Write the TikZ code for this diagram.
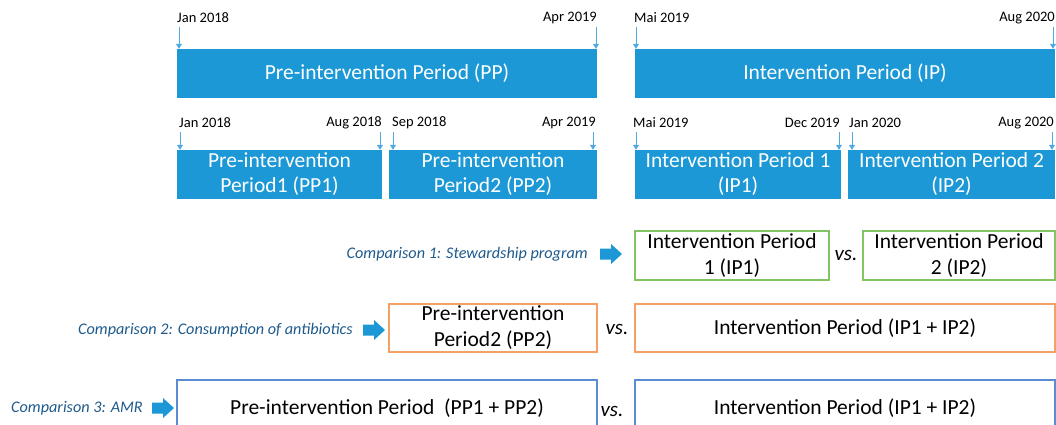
\documentclass[tikz,border=0pt]{standalone}
\usepackage{fontspec}
\setmainfont{Carlito}
\usetikzlibrary{positioning, arrows.meta}
\definecolor{barblue}{RGB}{27,152,213}
\definecolor{tickblue}{RGB}{80,170,225}
\definecolor{cmpblue}{RGB}{30,90,140}
\definecolor{boxgreen}{RGB}{130,195,100}
\definecolor{boxorange}{RGB}{245,160,100}
\definecolor{boxblue}{RGB}{90,140,210}

\begin{document}
\begin{tikzpicture}[x=1pt, y=-1pt,
	period/.style={fill=barblue, text=white, minimum height=49pt, inner sep=0pt, align=center, font=\fontsize{21.5}{25}\selectfont},
	date/.style={inner sep=0pt, font=\fontsize{14.5}{17}\selectfont},
	tick/.style={draw=tickblue, line width=0.8pt, -{Triangle[width=6pt,length=5pt]}},
	cmpbox/.style={draw=#1, line width=1.3pt, inner sep=0pt, align=center, font=\fontsize{21.5}{26}\selectfont},
	versus/.style={inner sep=0pt, font=\fontsize{21}{25}\selectfont\itshape},
	cmp/.style={text=cmpblue, inner sep=0pt, font=\fontsize{16.2}{18}\selectfont\itshape},
	bigarrow/.style={fill=barblue}]
			\useasboundingbox (0,0) rectangle (1056,425);
			\clip (0,0) rectangle (1056,425);
			\node [period, minimum width=420pt] (pp) at (387,73.5) {Pre-intervention Period (PP)};
			\node [period, minimum width=420pt] (ip) at (845,73.5) {Intervention Period (IP)};
			\node [period, minimum width=205pt] (pp1) at (279.5,174.5) {Pre-intervention\\Period1 (PP1)};
			\node [period, minimum width=208pt] (pp2) at (493,174.5) {Pre-intervention\\Period2 (PP2)};
			\node [period, minimum width=206pt] (ip1) at (738,174.5) {Intervention Period 1\\(IP1)};
			\node [period, minimum width=207pt] (ip2) at (951.5,174.5) {Intervention Period 2\\(IP2)};
			\node [date, anchor=west] (d1) at (177,18) {Jan 2018};
			\node [date, anchor=east] (d2) at (597,18) {Apr 2019};
			\node [date, anchor=west] (d3) at (634,18) {Mai 2019};
			\node [date, anchor=east] (d4) at (1055,18) {Aug 2020};
			\node [date, anchor=west] (d5) at (179,123) {Jan 2018};
			\node [date, anchor=east] (d6) at (382,123) {Aug 2018};
			\node [date, anchor=west] (d7) at (392,123) {Sep 2018};
			\node [date, anchor=east] (d8) at (596,123) {Apr 2019};
			\node [date, anchor=west] (d9) at (633,123) {Mai 2019};
			\node [date, anchor=east] (d10) at (840,123) {Dec 2019};
			\node [date, anchor=west] (d11) at (849,123) {Jan 2020};
			\node [date, anchor=east] (d12) at (1054,123) {Aug 2020};
			\coordinate (t1) at (179,27);
			\coordinate (t2) at (596,27);
			\coordinate (t3) at (636,27);
			\coordinate (t4) at (1053,27);
			\coordinate (t5) at (180,132);
			\coordinate (t6) at (380,132);
			\coordinate (t7) at (393,132);
			\coordinate (t8) at (593,132);
			\coordinate (t9) at (636,132);
			\coordinate (t10) at (839,132);
			\coordinate (t11) at (852,132);
			\coordinate (t12) at (1052,132);
			\draw [tick] (t1) to (t1 |- pp.north);
			\draw [tick] (t2) to (t2 |- pp.north);
			\draw [tick] (t3) to (t3 |- ip.north);
			\draw [tick] (t4) to (t4 |- ip.north);
			\draw [tick] (t5) to (t5 |- pp1.north);
			\draw [tick] (t6) to (t6 |- pp1.north);
			\draw [tick] (t7) to (t7 |- pp2.north);
			\draw [tick] (t8) to (t8 |- pp2.north);
			\draw [tick] (t9) to (t9 |- ip1.north);
			\draw [tick] (t10) to (t10 |- ip1.north);
			\draw [tick] (t11) to (t11 |- ip2.north);
			\draw [tick] (t12) to (t12 |- ip2.north);
			\node [cmpbox=boxgreen, minimum width=194pt, minimum height=49pt] (c1a) at (732,255.5) {Intervention Period\\1 (IP1)};
			\node [cmpbox=boxgreen, minimum width=192pt, minimum height=49pt] (c1b) at (959,255.5) {Intervention Period\\2 (IP2)};
			\node [versus] (v1) at (846,255.5) {vs.};
			\coordinate (a1) at (600,254);
			\fill [bigarrow] (a1) ++(0,-5.5) -- ++(11,0) -- ++(0,-4.5) -- ++(11,10) -- ++(-11,10) -- ++(0,-4.5) -- ++(-11,0) -- cycle;
			\node [cmp, left=12pt of a1] (k1) {Comparison 1: Stewardship program};
			\node [cmpbox=boxorange, minimum width=208pt, minimum height=48pt] (c2a) at (493,328) {Pre-intervention\\Period2 (PP2)};
			\node [cmpbox=boxorange, minimum width=420pt, minimum height=48pt] (c2b) at (845,328) {Intervention Period (IP1 + IP2)};
			\node [versus] (v2) at (617,329) {vs.};
			\coordinate (a2) at (363,330);
			\fill [bigarrow] (a2) ++(0,-5.5) -- ++(11,0) -- ++(0,-4.5) -- ++(11,10) -- ++(-11,10) -- ++(0,-4.5) -- ++(-11,0) -- cycle;
			\node [cmp, left=10pt of a2] (k2) {Comparison 2: Consumption of antibiotics};
			\node [cmpbox=boxblue, minimum width=420pt, minimum height=56pt] (c3a) at (387,408) {Pre-intervention Period\ \ (PP1 + PP2)};
			\node [cmpbox=boxblue, minimum width=420pt, minimum height=56pt] (c3b) at (845,408) {Intervention Period (IP1 + IP2)};
			\node [versus] (v3) at (612,411) {vs.};
			\coordinate (a3) at (152,408);
			\fill [bigarrow] (a3) ++(0,-5.5) -- ++(11,0) -- ++(0,-4.5) -- ++(11,10) -- ++(-11,10) -- ++(0,-4.5) -- ++(-11,0) -- cycle;
			\node [cmp, left=9pt of a3] (k3) {Comparison 3: AMR};
			\end{tikzpicture}
\end{document}
